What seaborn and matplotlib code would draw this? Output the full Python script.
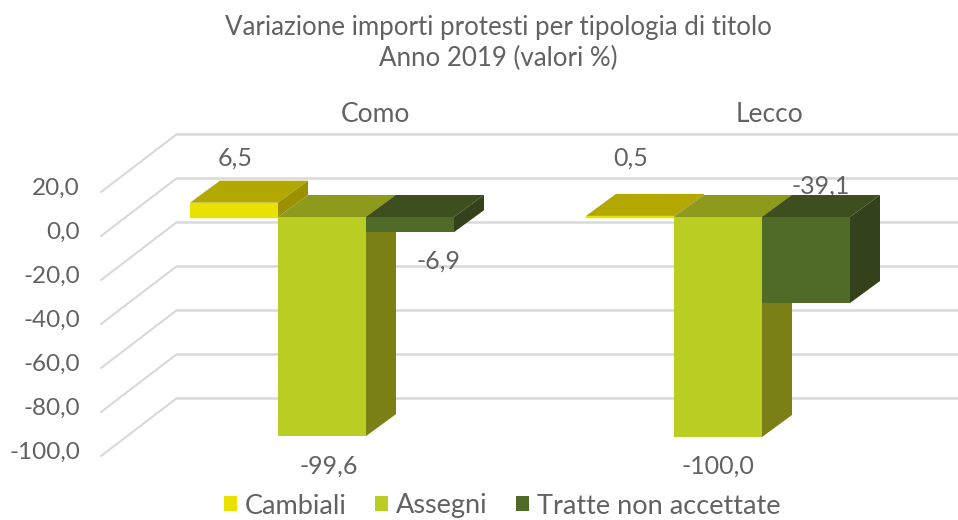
import matplotlib
matplotlib.use("Agg")
import matplotlib.pyplot as plt
from matplotlib.patches import Polygon
import pandas as pd
import seaborn as sns

provinces = ["Como", "Lecco"]
series = ["Cambiali", "Assegni", "Tratte non accettate"]
cambiali = [6.5, 0.5]
assegni = [-99.6, -100.0]
tratte = [-6.9, -39.1]
y_ticks = [20, 0, -20, -40, -60, -80, -100]
front_colors = ["#EBE100", "#BACD23", "#506A27"]
top_colors = ["#B3A800", "#8E9A1B", "#3D4F1E"]
side_colors = ["#9A9000", "#7A8015", "#33421A"]
TEXT = "#626262"
GRID = "#D9D9D9"

W, H = 958, 520
PX_X = 396.0   # pixels per category
PX_Y = 2.2     # pixels per percentage point
X0, Y0 = 322.0, 217.0  # pixel of first category / zero on the bar front plane


def dx(p):
    return p / PX_X


def dy(p):
    return p / PX_Y


sns.set_theme(style="white")
plt.rcParams["font.family"] = ["Lato", "DejaVu Sans"]
fig = plt.figure(figsize=(W / 100, H / 100), dpi=100)
ax = fig.add_axes([0, 0, 1, 1])

df = pd.DataFrame({
    "provincia": provinces * 3,
    "tipologia": [s for s in series for _ in provinces],
    "valore": cambiali + assegni + tratte,
})
sns.barplot(data=df, x="provincia", y="valore", hue="tipologia", hue_order=series,
            palette=front_colors, width=2 / 3, gap=0, saturation=1,
            errorbar=None, ax=ax, legend=True, linewidth=0)

ax.set_xlim(-X0 / PX_X, (W - X0) / PX_X)
ax.set_ylim((Y0 - H) / PX_Y, Y0 / PX_Y)
ax.set_axis_off()

# Walls: gridlines at the back plane, diagonals toward the front plane
bdy = dy(39)    # back wall relative to bar front plane
fdy = dy(-19)   # front edge relative to bar front plane
x_right = ax.get_xlim()[1]
for v in y_ticks:
    ax.plot([-X0 / PX_X + dx(177), x_right], [v + bdy, v + bdy], color=GRID, lw=1.8, zorder=1)
    ax.plot([-X0 / PX_X + dx(101), -X0 / PX_X + dx(177)], [v + fdy, v + bdy], color=GRID, lw=1.5, zorder=1)
    ax.text(-X0 / PX_X + dx(80), v + fdy + dy(4), f"{v},0", ha="right", va="center",
            fontsize=17.5, color=TEXT, zorder=2)

# 3D faces on each bar
ox, oy = dx(30), dy(22)
for i, cont in enumerate(ax.containers[:3]):
    for p in cont.patches:
        p.set_zorder(4 + i + 0.5)
        p.set_linewidth(0)
        x0, x1 = p.get_x(), p.get_x() + p.get_width()
        a, b = p.get_y(), p.get_y() + p.get_height()
        hi, lo = max(a, b), min(a, b)
        ax.add_patch(Polygon([(x0, hi), (x0 + ox, hi + oy), (x1 + ox, hi + oy), (x1, hi)],
                             closed=True, fc=top_colors[i], ec="none", zorder=4 + i))
        ax.add_patch(Polygon([(x1, hi), (x1 + ox, hi + oy), (x1 + ox, lo + oy), (x1, lo)],
                             closed=True, fc=side_colors[i], ec="none", zorder=4 + i))
    if i == 0:
        # very short bar: edge of the front face stays visible
        for p in cont.patches:
            ax.plot([p.get_x(), p.get_x() + p.get_width()], [p.get_y()] * 2,
                    color=front_colors[0], lw=1, zorder=4.5)

# Data labels
all_vals = [cambiali, assegni, tratte]
label_pos = {
    (0, 0): (235, 158), (0, 1): (631, 158),
    (1, 0): (329, 466), (1, 1): (718, 466),
    (2, 0): (438, 261), (2, 1): (821, 186),
}
for (s, c), (px, py) in label_pos.items():
    txt = f"{all_vals[s][c]:.1f}".replace(".", ",")
    ax.text((px - X0) / PX_X, (Y0 - py) / PX_Y, txt, ha="center", va="center",
            fontsize=18, color=TEXT, zorder=3)

# Panel names
for name, px in zip(provinces, [375, 770]):
    ax.text((px - X0) / PX_X, (Y0 - 114) / PX_Y, name, ha="center", va="center",
            fontsize=19, color=TEXT, zorder=3)

# Title
fig.text(498 / W, 1 - 28 / H, "Variazione importi protesti per tipologia di titolo",
         ha="center", va="center", fontsize=18.6, color=TEXT)
fig.text(498 / W, 1 - 58 / H, "Anno 2019 (valori %)",
         ha="center", va="center", fontsize=18.6, color=TEXT)

# Legend
handles, labels = ax.get_legend_handles_labels()
leg = ax.legend(handles[:3], labels[:3], loc="center", bbox_to_anchor=(502 / W, 1 - 506 / H),
                bbox_transform=fig.transFigure, ncol=3, frameon=False, fontsize=19.5,
                labelcolor=TEXT, handlelength=0.47, handleheight=0.47, handletextpad=0.3,
                columnspacing=1.05, borderpad=0, borderaxespad=0)
leg.set_zorder(10)

fig.savefig("out.png", dpi=100)
